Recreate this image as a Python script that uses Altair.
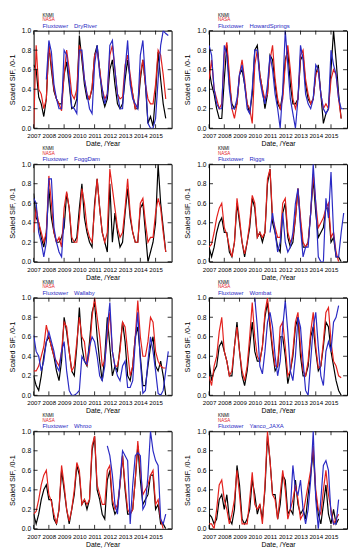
import altair as alt
import pandas as pd

FONT = "Liberation Sans"
YEARS = list(range(2007, 2016))
MONTHS = [1, 3, 5, 7, 9, 11]
X_TICKS = list(range(2007, 2016))
Y_TICKS = [0.0, 0.2, 0.4, 0.6, 0.8, 1.0]
SERIES = ["KNMI", "NASA", "Fluxtower"]
COLORS = ["#000000", "#e3211d", "#2a2ac4"]
N = None

# ---- DryRiver ----
dry_knmi = [.65, .6, .32, .25, .12, .3,  .85, .6, .38, .3, .25, .25,  .55, .68, .45, .2, .22, .3,
            .95, .7, .45, .3, .3, .4,  .75, .85, .6, .32, .22, .3,  .6, .7, .45, .25, .2, .25,
            .5, .7, .5, .35, .2, .2,  .5, .7, .45, .05, .12, .02,  .35, .78, .5, .25, .1, N]
dry_nasa = [0, .85, .4, .35, .2, .3,  .85, .65, .4, .3, .25, .18,  .55, .8, .6, .35, .3, .4,
            .85, .75, .5, .35, .3, .42,  .75, .8, .6, .4, .3, .35,  .75, .85, .6, .35, .3, .32,
            .65, .75, .55, .35, .2, .25,  .55, .7, .45, .3, .25, .25,  .45, .8, .75, .55, .3, N]
dry_flux = [N, N, N, N, N, .5,  .9, .78, .45, .3, .2, .2,  .8, .75, .5, .22, .2, .15,
            .8, .8, .5, .35, .2, .15,  .65, .85, .55, .4, .25, .35,  .85, .9, .6, .35, .2, .2,
            .6, .9, .45, .3, .25, .2,  .75, .9, .5, .05, 0, 0,  .1, .5, .85, 1.0, .97, .95]

# ---- HowardSprings ----
how_knmi = [.6, .45, .35, .2, .1, .1,  .5, .85, .45, .25, .2, .25,  .55, .6, .45, .25, .15, .35,
            .8, .85, .55, .4, .2, .35,  .75, .7, .45, .25, .2, .35,  .7, .8, .45, .25, .25, .3,
            .7, .75, .45, .3, .25, .3,  .55, .65, .35, .05, .15, .2,  .6, 1.0, .7, .35, .1, N]
how_nasa = [.5, .7, .4, .3, .2, .25,  .75, .88, .55, .2, .1, .25,  .55, .7, .5, .25, .2, .05,
            .65, .8, .55, .4, .3, .35,  .7, .85, .5, .3, .2, .3,  .65, .85, .6, .3, .2, .3,
            .75, .8, .5, .35, .25, .3,  .55, .6, .35, .2, .25, .2,  .5, .6, .55, .3, .1, N]
how_flux = [.85, .75, .4, .25, .2, .2,  .85, .75, .4, .2, .2, .3,  .55, .65, .45, .2, .15, .4,
            .8, .8, .5, .35, .25, .45,  .75, .6, .35, .2, 0, .4,  1.0, .65, .3, .15, 0, .3,
            .85, .7, .35, .25, .2, .3,  .65, .6, .35, .2, .15, .2,  .8, .65, .55, .3, .2, .2]

# ---- FoggDam ----
fog_knmi = [.7, .45, .4, .25, .15, .3,  .75, .45, .3, .2, .2, .25,  .35, .7, .55, .2, .2, .25,
            .55, .8, .45, .3, .2, .15,  .6, .85, .55, .3, .2, .1,  .8, .2, .5, .3, .15, .2,
            .5, .75, .45, .3, .2, .2,  .55, .6, .3, 0, .1, .2,  .4, 1.0, .6, .35, .1, N]
fog_nasa = [.3, .55, .4, .3, .2, .3,  .88, .6, .3, .2, .25, .15,  .55, .72, .55, .25, .2, .2,
            .45, .75, .6, .35, .25, .2,  .55, .85, .55, .3, .2, .3,  .95, .75, .55, .35, .25, .3,
            .55, .85, .5, .3, .2, .2,  .6, .65, .4, .2, .25, .25,  .5, .65, .55, .3, .1, N]
fog_flux = [.65, .6, .3, .2, .05, .2,  .85, .85, .35, .2, .1, .05,  .45, N, N, N, N, N,
            N, N, N, N, N, N,  N, N, N, N, N, N,  N, N, N, N, N, N,
            N, N, N, N, N, N,  N, N, N, N, N, N,  N, N, N, N, N, N]

# ---- Riggs ----
rig_knmi = [.15, .05, .15, .3, .4, .45,  .3, .3, .1, .05, .2, .6,  .4, .2, .05, .2, .35, .65,
            .55, .25, .3, .2, .3, .8,  .95, .4, .3, .15, .1, .5,  .6, .25, .15, .2, .45, .75,
            .4, .15, .15, .2, .5, .85,  .5, .25, .3, .35, .55, .55,  .2, .25, .05, .05, 0, N]
rig_nasa = [.15, .18, .3, .45, .55, .6,  .35, .28, .15, .05, .2, .65,  .45, .2, .08, .2, .4, .68,
            .6, .25, .3, .25, .3, .85,  .95, .45, .35, .25, .25, .6,  .65, .3, .2, .25, .45, .75,
            .45, .2, .15, .2, .5, .9,  .6, .35, .4, .45, .55, .6,  .25, .3, .1, 0, N, N]
rig_flux = [N, N, N, N, N, N,  N, N, N, N, N, N,  N, N, N, N, N, N,
            N, N, N, N, N, N,  .3, .5, .3, .1, .2, .5,  .2, .1, .15, .3, .6, .75,
            .35, .05, .15, .15, .5, 1.0,  .6, .05, 0, 0, .65, .45,  .92, .3, .05, .05, .3, .5]

# ---- Wallaby ----
wal_knmi = [.2, .1, .05, .2, .4, .55,  .6, .5, .4, .25, .15, .35,  .8, .65, .45, .25, .2, .5,
            .9, .5, .35, .3, .55, .85,  .95, .6, .35, .15, .4, .8,  .5, .2, .3, .25, .5, .75,
            .55, .2, .15, .3, .6, .7,  .4, .1, .1, .3, .5, .6,  .3, .25, .35, .2, 0, N]
wal_nasa = [.25, .25, .3, .4, .5, .72,  .6, .5, .4, .35, .3, .45,  .75, .7, .45, .25, .3, .55,
            .8, .6, .55, .3, .45, .8,  1.0, .8, .6, .3, .35, .6,  .85, .45, .3, .3, .45, .75,
            .7, .45, .2, .3, .6, .97,  .6, .4, .4, .55, .8, .75,  .45, .35, .3, .28, .28, N]
wal_flux = [.62, .45, .4, .25, .35, .55,  .65, .55, .45, .3, .25, .45,  .55, .25, .05, 0, 0, .02,
            .05, .4, .35, .32, .5, .6,  .55, .4, .2, .15, .3, .7,  .95, .45, .3, .2, .15, .3,
            .35, .08, .08, .15, .55, .85,  .35, .02, .05, .35, .6, .45,  .25, .02, 0, .05, .25, .45]

# ---- Wombat ----
wom_knmi = [.35, .15, .25, .3, .5, .55,  .45, .35, .2, .2, .5, .75,  .45, .2, .1, .25, .5, .75,
            .45, .35, .35, .5, .8, .95,  .7, .45, .25, .3, .6, .6,  .4, .12, .25, .4, .7, .8,
            .4, .2, .2, .3, .6, .7,  .45, .25, .3, .5, .75, .7,  .45, .3, .15, .05, 0, N]
wom_nasa = [.2, .1, .3, .4, .65, .8,  .45, .35, .2, .25, .5, .7,  .45, .25, .15, .3, .6, .95,
            .6, .4, .35, .5, .85, 1.0,  .75, .5, .3, .3, .7, .75,  .5, .2, .25, .45, .75, .85,
            .5, .25, .2, .35, .65, .85,  .5, .28, .3, .55, .85, .9,  .55, .35, .3, .2, .18, N]
wom_flux = [N, N, N, N, N, N,  N, N, N, N, N, N,  N, N, N, N, N, N,
            1.0, .7, .3, .22, .45, .75,  .85, .7, .4, .2, .35, .7,  .97, .65, .25, .15, .4, .8,
            .7, .35, .05, 0, .35, .7,  .85, .5, .2, .1, .45, .55,  .45, .75, .8, .92, N, N]

# ---- Whroo ----
whr_knmi = rig_knmi
whr_nasa = rig_nasa
whr_flux = [N, N, N, N, N, N,  N, N, N, N, N, N,  N, N, N, N, N, N,
            N, N, N, N, N, N,  N, N, N, N, N, .85,  .75, .55, .25, .15, .5, .8,
            .75, .7, .05, .45, .75, .78,  .75, .2, .25, .55, 1.0, .8,  .7, .65, .1, .05, .15, N]

# ---- Yanco_JAXA ----
yan_knmi = [.15, .12, .05, .1, .3, .35,  .2, .35, .1, .05, .2, .65,  .45, .1, .05, .1, .2, .5,
            .35, .15, .25, .1, .4, .95,  .7, .35, .35, .1, .25, .55,  .5, .15, .2, .15, .5, .25,
            .15, .2, .1, .35, .55, .8,  .35, .15, .05, .25, .45, .15,  .05, .2, .05, .1, N, N]
yan_nasa = [.05, .05, 0, .2, .45, .5,  .3, .2, .05, .15, .3, .6,  .35, .05, .05, .05, .3, .58,
            .25, .2, .25, .05, .45, 1.0,  .7, .35, .3, .1, .35, .6,  .4, .1, .2, .3, .45, .3,
            .1, .15, .3, .45, .6, .85,  .4, .2, .15, .4, .6, .35,  .2, .05, .1, .15, N, N]
yan_flux = [N, N, N, N, N, N,  N, N, N, N, N, N,  N, N, N, N, N, N,
            N, N, N, N, N, N,  N, N, N, N, N, N,  N, N, .2, .65, .4, .35,
            .5, .2, .05, .2, .5, 1.0,  .3, 0, .3, .65, .7, .6,  .15, .05, .05, .3, N, N]

SITES = ["DryRiver", "HowardSprings", "FoggDam", "Riggs",
         "Wallaby", "Wombat", "Whroo", "Yanco_JAXA"]
DATA = [(dry_knmi, dry_nasa, dry_flux), (how_knmi, how_nasa, how_flux),
        (fog_knmi, fog_nasa, fog_flux), (rig_knmi, rig_nasa, rig_flux),
        (wal_knmi, wal_nasa, wal_flux), (wom_knmi, wom_nasa, wom_flux),
        (whr_knmi, whr_nasa, whr_flux), (yan_knmi, yan_nasa, yan_flux)]

W, H = 140, 99
TIMES = [y + (m - 1) / 12 for y in YEARS for m in MONTHS]

xs = alt.Scale(domain=[2007, 2016.05], nice=False, zero=False)
ys = alt.Scale(domain=[0, 1], nice=False, zero=False)
xaxis = alt.Axis(values=X_TICKS, format="d", title="Date, /Year", ticks=False, domain=False,
                 grid=False, labelPadding=4.5, titlePadding=1, labelOverlap=False,
                 labelFlush=False, labelFontSize=6.2, titleFontSize=7)
yaxis = alt.Axis(values=Y_TICKS, format=".1f", title="Scaled SIF, /0-1", ticks=False,
                 domain=False, grid=False, labelPadding=3, titlePadding=5,
                 labelOverlap=False, labelFlush=False, labelFontSize=6.8, titleFontSize=7.3)


def text_layer(txt, x, y, color, size):
    return alt.Chart(pd.DataFrame({"s": [txt]})).mark_text(
        align="left", baseline="middle", font=FONT, fontSize=size, color=color
    ).encode(x=alt.value(x), y=alt.value(y), text="s:N")


def panel(site, series):
    layers = []
    for name, col, vals in zip(SERIES, COLORS, series):
        df = pd.DataFrame({"t": TIMES, "v": vals}).dropna()
        layers.append(alt.Chart(df).mark_line(color=col, strokeWidth=1.2, clip=True).encode(
            x=alt.X("t:Q", scale=xs, axis=xaxis), y=alt.Y("v:Q", scale=ys, axis=yaxis)))
    xt = pd.DataFrame({"t": X_TICKS})
    yt = pd.DataFrame({"v": Y_TICKS})
    for y0, y1 in ((H, H - 4), (0, 4)):
        layers.append(alt.Chart(xt).mark_rule(color="black", strokeWidth=0.8).encode(
            x=alt.X("t:Q", scale=xs, axis=xaxis), y=alt.value(y0), y2=alt.value(y1)))
    for x0, x1 in ((0, 4), (W, W - 4)):
        layers.append(alt.Chart(yt).mark_rule(color="black", strokeWidth=0.8).encode(
            y=alt.Y("v:Q", scale=ys, axis=yaxis), x=alt.value(x0), x2=alt.value(x1)))
    layers.append(text_layer("KNMI", 9, -15, COLORS[0], 4.6))
    layers.append(text_layer("NASA", 9, -10.5, COLORS[1], 4.6))
    layers.append(text_layer("Fluxtower", 9, -5, COLORS[2], 6))
    layers.append(text_layer(site, 41, -5, COLORS[2], 6))
    return alt.layer(*layers).properties(width=W, height=H)


panels = [panel(s, d) for s, d in zip(SITES, DATA)]

chart = alt.concat(*panels, columns=2, spacing={"row": 36.5, "column": 38},
                   bounds="flush").properties(padding=0).configure_view(
    stroke="black", strokeWidth=1
).configure_axis(
    labelFont=FONT, titleFont=FONT, labelColor="black", titleColor="black",
    titleFontWeight="normal"
)

chart.save("out.html", embed_options={"renderer": "svg", "actions": False})
